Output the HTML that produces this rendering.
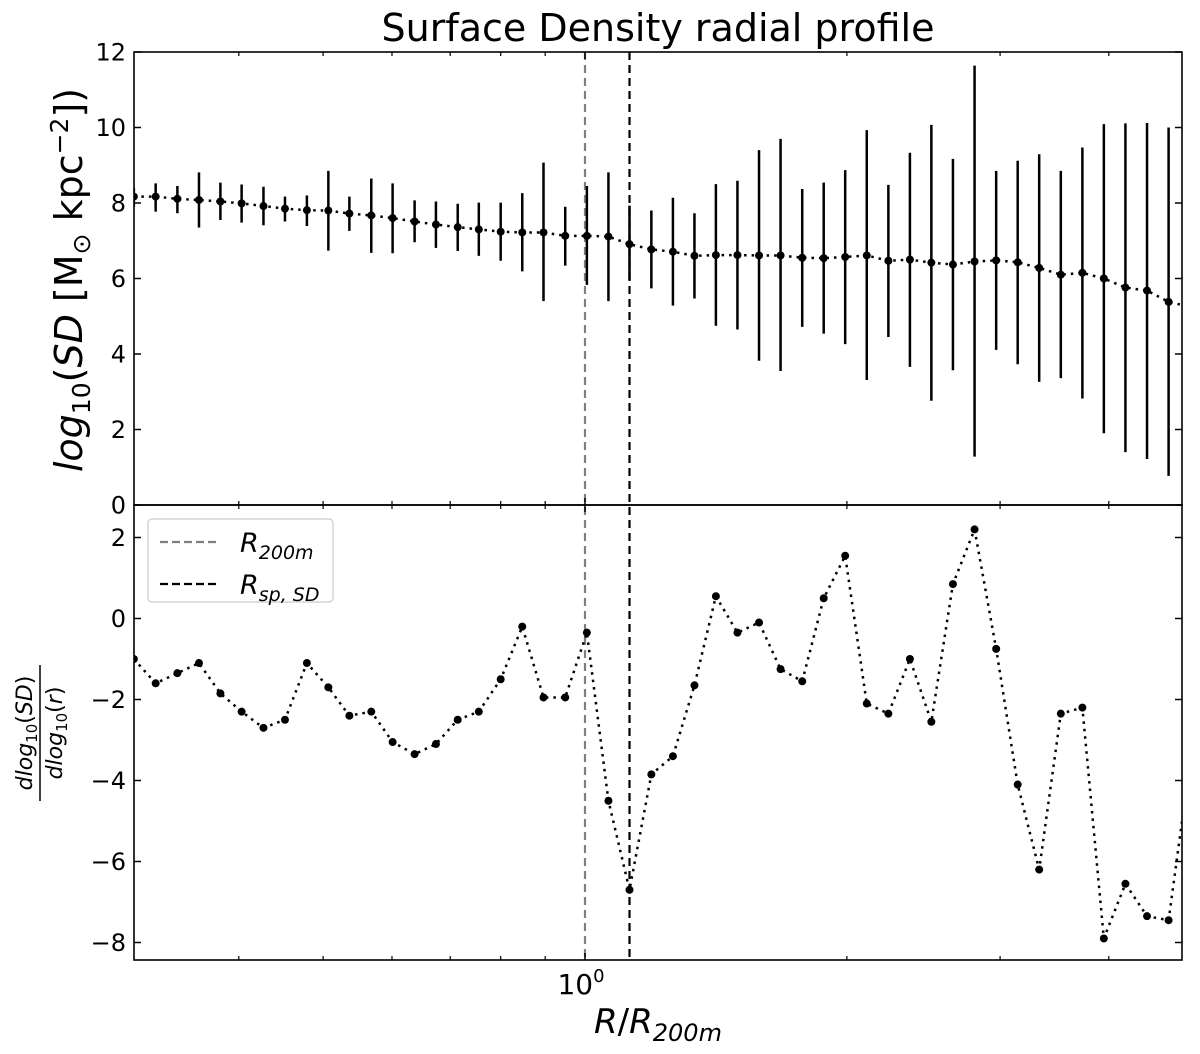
<!DOCTYPE html>
<html><head><meta charset="utf-8"><style>
body{margin:0;background:#fff}
svg text{font-family:"DejaVu Sans","Liberation Sans",sans-serif;fill:#000}
</style></head><body>
<svg id="chart" width="1200" height="1049" viewBox="0 0 1200 1049" xmlns="http://www.w3.org/2000/svg">
<defs>
<clipPath id="clipTop"><rect x="134" y="52" width="1048" height="453"/></clipPath>
<clipPath id="clipBot"><rect x="134" y="505" width="1048" height="455"/></clipPath>
</defs>
<text x="658" y="41" font-size="38" text-anchor="middle">Surface Density radial profile</text>
<g id="vlines"></g>
<g id="topPanel"></g>
<g id="botPanel"></g>
<g id="axes"></g>
<text transform="translate(82,280) rotate(-90)" font-size="38" text-anchor="middle"><tspan font-style="italic">log</tspan><tspan font-size="25" dy="8">10</tspan><tspan dy="-8">(</tspan><tspan font-style="italic">SD</tspan><tspan> [M</tspan><tspan font-size="25" dy="8">⊙</tspan><tspan dy="-8"> kpc</tspan><tspan font-size="25" dy="-14">−2</tspan><tspan dy="14">])</tspan></text>
<g transform="translate(40,733) rotate(-90)">
<text x="0" y="-8" font-size="22" text-anchor="middle"><tspan font-style="italic">dlog</tspan><tspan font-size="15" dy="5">10</tspan><tspan dy="-5">(</tspan><tspan font-style="italic">SD</tspan><tspan>)</tspan></text>
<line x1="-68" y1="0" x2="68" y2="0" stroke="#000" stroke-width="1.5"/>
<text x="0" y="22" font-size="22" text-anchor="middle"><tspan font-style="italic">dlog</tspan><tspan font-size="15" dy="5">10</tspan><tspan dy="-5">(</tspan><tspan font-style="italic">r</tspan><tspan>)</tspan></text>
</g>
<text x="658" y="1033" font-size="34" text-anchor="middle"><tspan font-style="italic">R</tspan>/<tspan font-style="italic">R</tspan><tspan font-size="24" dy="8" font-style="italic">200m</tspan></text>
<g>
<rect x="148" y="519" width="185" height="83" rx="4" fill="#fff" stroke="#ccc" stroke-width="1.2"/>
<g>
<line x1="160" y1="542" x2="217" y2="542" stroke="#808080" stroke-width="2.2" stroke-dasharray="8,4"/>
<text x="240" y="552" font-size="27" font-style="italic">R<tspan font-size="19" dy="7">200m</tspan></text>
</g>
<g>
<line x1="160" y1="584" x2="217" y2="584" stroke="#000" stroke-width="2.2" stroke-dasharray="8,4"/>
<text x="240" y="594" font-size="27" font-style="italic">R<tspan font-size="19" dy="7">sp, SD</tspan></text>
</g>
</g>
</svg>
<script>
const radius = [0.303,0.321,0.340,0.360,0.381,0.403,0.427,0.452,0.479,0.507,0.536,0.568,0.601,0.637,0.674,0.714,0.755,0.800,0.847,0.896,0.949,1.005,1.064,1.125,1.192,1.262,1.336,1.414,1.497,1.585,1.678,1.777,1.881,1.991,2.108,2.232,2.363,2.501,2.648,2.804,2.969,3.143,3.327,3.523,3.730,3.948,4.180,4.426,4.686,4.963];
const sdValues = [8.17,8.17,8.11,8.08,8.04,7.99,7.92,7.85,7.81,7.80,7.72,7.67,7.60,7.51,7.43,7.36,7.30,7.24,7.22,7.22,7.13,7.13,7.11,6.91,6.77,6.71,6.60,6.62,6.62,6.61,6.61,6.55,6.54,6.57,6.61,6.47,6.50,6.42,6.37,6.45,6.48,6.43,6.28,6.10,6.15,6.00,5.76,5.68,5.38,5.25];
const sdUpper = [8.40,8.52,8.45,8.81,8.54,8.49,8.43,8.17,8.20,8.85,8.17,8.65,8.52,8.07,8.04,7.98,8.01,8.01,8.26,9.07,7.90,8.45,8.81,7.93,7.80,8.14,7.73,8.50,8.59,9.40,9.70,8.37,8.54,8.87,9.93,8.48,9.33,10.07,9.17,11.64,8.85,9.12,9.29,8.85,9.47,10.09,10.11,10.12,10.00,10.0];
const sdLower = [7.90,7.77,7.73,7.35,7.55,7.48,7.41,7.51,7.39,6.74,7.26,6.68,6.67,6.96,6.81,6.73,6.60,6.47,6.19,5.40,6.34,5.83,5.40,5.96,5.74,5.28,5.47,4.75,4.65,3.82,3.55,4.72,4.54,4.26,3.31,4.45,3.66,2.76,3.57,1.28,4.11,3.73,3.26,3.36,2.82,1.90,1.40,1.22,0.77,0.5];
const slopeValues = [-1.0,-1.6,-1.35,-1.1,-1.85,-2.3,-2.7,-2.5,-1.1,-1.7,-2.4,-2.3,-3.05,-3.35,-3.1,-2.5,-2.3,-1.5,-0.2,-1.95,-1.95,-0.35,-4.5,-6.7,-3.85,-3.4,-1.65,0.55,-0.35,-0.1,-1.25,-1.55,0.5,1.55,-2.1,-2.35,-1.0,-2.55,0.85,2.2,-0.75,-4.1,-6.2,-2.35,-2.2,-7.9,-6.55,-7.35,-7.45,-3.5];
const r200m = [1.0];
const rsp = [1.125];
const topTicks = [0,2,4,6,8,10,12];
const botTicks = [2,0,-2,-4,-6,-8];
const xMinorTicks = [0.4,0.5,0.6,0.7,0.8,0.9,2,3,4];

const NS='http://www.w3.org/2000/svg';
const L=134,R=1182,T1=52,B1=505,T2=505,B2=960;
const X=r=>585+870*Math.log10(r);
const Y1=v=>505-37.75*v;
const Y2=v=>618.5-40.5*v;
function mk(tag,attrs,parent){const e=document.createElementNS(NS,tag);for(const k in attrs)e.setAttribute(k,attrs[k]);parent.appendChild(e);return e;}
const topG=document.getElementById('topPanel'),botG=document.getElementById('botPanel'),axes=document.getElementById('axes'),vlines=document.getElementById('vlines');
const gt=mk('g',{'clip-path':'url(#clipTop)'},topG);
const gb=mk('g',{'clip-path':'url(#clipBot)'},botG);
[[r200m[0],'#808080','r200m-line'],[rsp[0],'#000','rsp-line']].forEach(([r,c,n])=>{
  const ln=mk('line',{x1:X(r),x2:X(r),y1:T1,y2:B2,stroke:c,'stroke-width':2.2,'stroke-dasharray':'8,5'},vlines);
  
  
});
const pl1=mk('polyline',{points:radius.map((r,i)=>X(r)+','+Y1(sdValues[i])).join(' '),fill:'none',stroke:'#000','stroke-width':2.5,'stroke-dasharray':'2.5,5'},gt);


radius.forEach((r,i)=>{
  const e=mk('line',{x1:X(r),x2:X(r),y1:Y1(sdUpper[i]),y2:Y1(sdLower[i]),stroke:'#000','stroke-width':2.5},gt);
  
  
  const c=mk('circle',{cx:X(r),cy:Y1(sdValues[i]),r:4,fill:'#000'},gt);
  
  
});
const pl2=mk('polyline',{points:radius.map((r,i)=>X(r)+','+Y2(slopeValues[i])).join(' '),fill:'none',stroke:'#000','stroke-width':2.5,'stroke-dasharray':'2.5,5'},gb);


radius.forEach((r,i)=>{
  const c=mk('circle',{cx:X(r),cy:Y2(slopeValues[i]),r:4,fill:'#000'},gb);
  
  
});
mk('rect',{x:L,y:T1,width:R-L,height:B1-T1,fill:'none',stroke:'#000','stroke-width':1.6},axes);
mk('rect',{x:L,y:T2,width:R-L,height:B2-T2,fill:'none',stroke:'#000','stroke-width':1.6},axes);
topTicks.forEach(v=>{const y=Y1(v);
  mk('line',{x1:L,x2:L+7,y1:y,y2:y,stroke:'#000','stroke-width':1.5},axes);
  mk('line',{x1:R,x2:R-7,y1:y,y2:y,stroke:'#000','stroke-width':1.5},axes);
  const t=mk('text',{x:L-8,y:y+8.5,'font-size':24,'text-anchor':'end'},axes);t.textContent=v;
  
  
});
botTicks.forEach(v=>{const y=Y2(v);
  mk('line',{x1:L,x2:L+7,y1:y,y2:y,stroke:'#000','stroke-width':1.5},axes);
  mk('line',{x1:R,x2:R-7,y1:y,y2:y,stroke:'#000','stroke-width':1.5},axes);
  const t=mk('text',{x:L-8,y:y+8.5,'font-size':24,'text-anchor':'end'},axes);t.textContent=(v<0?'−'+(-v):v);
  
  
});
[[T1,1],[B1,-1],[T2,1],[B2,-1]].forEach(([y,d])=>{
  xMinorTicks.forEach(r=>mk('line',{x1:X(r),x2:X(r),y1:y,y2:y+d*4,stroke:'#000','stroke-width':1.2},axes));
  mk('line',{x1:X(1),x2:X(1),y1:y,y2:y+d*7,stroke:'#000','stroke-width':1.5},axes);
});
const xl=mk('text',{x:X(1)-4,y:994,'font-size':28,'text-anchor':'middle'},axes);


xl.innerHTML='10<tspan font-size="18" dy="-12">0</tspan>';
</script>
</body></html>
